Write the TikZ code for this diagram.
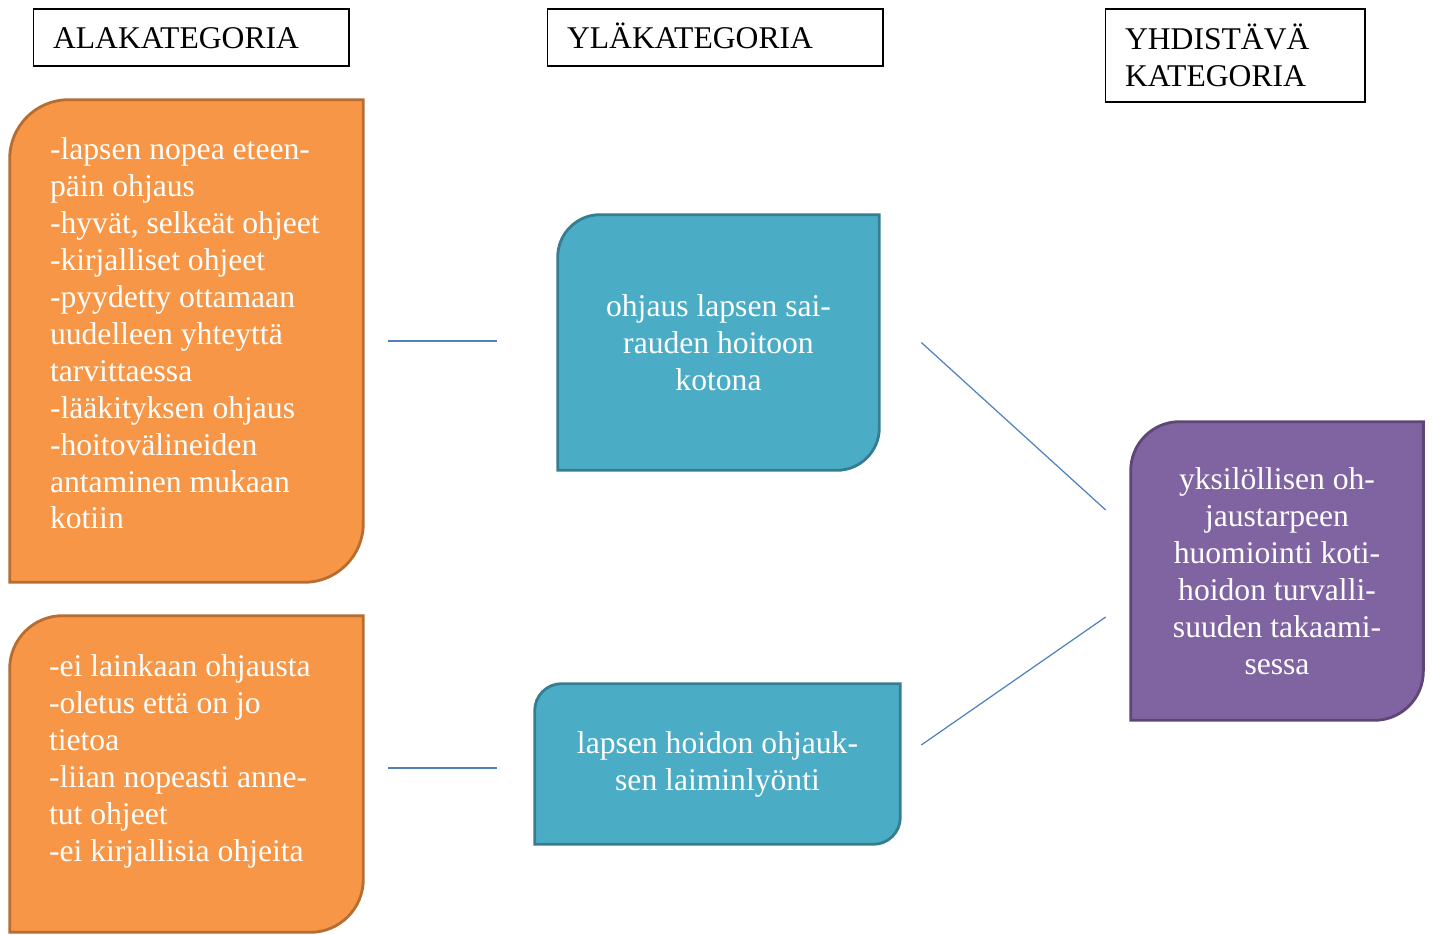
\documentclass[tikz,border=0pt]{standalone}
\usepackage{fontspec}
\setmainfont{Liberation Serif}
\usepackage{xcolor}
\definecolor{kaorange}{HTML}{F79646}
\definecolor{kaorangedark}{HTML}{B66D31}
\definecolor{kablue}{HTML}{4BACC6}
\definecolor{kabluedark}{HTML}{357D91}
\definecolor{kapurple}{HTML}{8064A2}
\definecolor{kapurpledark}{HTML}{5C4776}
\definecolor{kaline}{HTML}{4F81BD}
\usepackage{tikz}
\usetikzlibrary{backgrounds, calc}

\newcommand{\katfont}{\fontsize{18}{21}\selectfont}
% leaf shape: rounded top-left and bottom-right corners
\newcommand{\leafshape}[3]{%
  \draw[#1] (#2.south west) -- ([yshift=-#3]#2.north west)
    arc[start angle=180, end angle=90, radius=#3] -- (#2.north east)
    -- ([yshift=#3]#2.south east)
    arc[start angle=0, end angle=-90, radius=#3] -- cycle;}

\begin{document}
\begin{tikzpicture}[x=0.02cm, y=0.02cm,
    header/.style={draw=black, line width=0.6pt, font=\katfont, align=left,
                   inner xsep=0.4cm, inner ysep=0pt},
    box/.style={inner sep=0pt, font=\katfont, text=white, align=center},
    otext/.style={inner sep=0pt, font=\katfont, text=white, align=left},
    ofill/.style={fill=kaorange, draw=kaorangedark, line width=1.6pt},
    bfill/.style={fill=kablue, draw=kabluedark, line width=1.6pt},
    pfill/.style={fill=kapurple, draw=kapurpledark, line width=1.6pt},
    link/.style={draw=kaline, line width=0.7pt}]
  \useasboundingbox (0,0) rectangle (1432,935);

  % Column headers
  \node[header, text width=5.52cm, minimum height=1.14cm, text height=16pt, text depth=4pt] (h1) at (191,897.5) {ALAKATEGORIA};
  \node[header, text width=5.92cm, minimum height=1.14cm, text height=16pt, text depth=4pt] (h2) at (715,897.5) {YLÄKATEGORIA};
  \node[header, text width=4.4cm, minimum height=1.86cm] (h3) at (1235,879.5) {YHDISTÄVÄ\\KATEGORIA};

  % Sub-category boxes
  \node[box, minimum width=7.06cm, minimum height=9.64cm] (o1) at (186.5,594) {};
  \node[box, minimum width=7.06cm, minimum height=6.32cm] (o2) at (186.5,161) {};
  \node[otext, anchor=north west] (o1t) at ([shift={(40,-38)}]o1.north west)
       {-lapsen nopea eteen-\\päin ohjaus\\-hyvät, selkeät ohjeet\\-kirjalliset ohjeet\\
        -pyydetty ottamaan\\uudelleen yhteyttä\\tarvittaessa\\-lääkityksen ohjaus\\
        -hoitovälineiden\\antaminen mukaan\\kotiin};
  \node[otext, anchor=north west] (o2t) at ([shift={(39,-39)}]o2.north west)
       {-ei lainkaan ohjausta\\-oletus että on jo\\tietoa\\-liian nopeasti anne-\\
        tut ohjeet\\-ei kirjallisia ohjeita};

  % Upper category boxes
  \node[box, minimum width=6.42cm, minimum height=5.10cm] (b1) at (718.5,592.5)
       {ohjaus lapsen sai-\\rauden hoitoon\\kotona};
  \node[box, minimum width=7.30cm, minimum height=3.20cm] (b2) at (717.5,171)
       {lapsen hoidon ohjauk-\\sen laiminlyönti};

  % Combining category
  \node[box, minimum width=5.84cm, minimum height=5.96cm] (p) at (1277,364)
       {yksilöllisen oh-\\jaustarpeen\\huomiointi koti-\\hoidon turvalli-\\suuden takaami-\\sessa};

  \begin{pgfonlayer}{background}
    \leafshape{ofill}{o1}{1.18cm}
    \leafshape{ofill}{o2}{1.06cm}
    \leafshape{bfill}{b1}{0.85cm}
    \leafshape{bfill}{b2}{0.54cm}
    \leafshape{pfill}{p}{0.98cm}
  \end{pgfonlayer}

  % Connectors
  \draw[link] ([shift={(25,0)}]o1.east) -- ([shift={(-61,0)}]o1.east -| b1.west);
  \draw[link] ([shift={(25,6)}]o2.east) -- ([shift={(-38,-4)}]b2.west);
  \draw[link] ([shift={(42,0)}]b1.east) -- ([shift={(-25,61)}]p.west);
  \draw[link] ([shift={(21,19)}]b2.east) -- ([shift={(-25,-46)}]p.west);
\end{tikzpicture}
\end{document}
